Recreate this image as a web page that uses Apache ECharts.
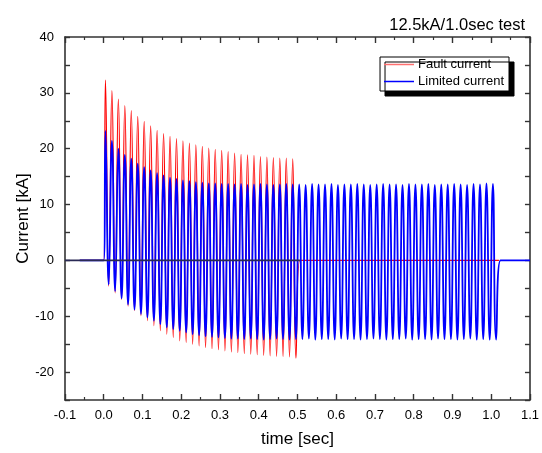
<!DOCTYPE html>
<html><head><meta charset="utf-8">
<script src="https://cdn.jsdelivr.net/npm/echarts@6/dist/echarts.min.js"></script>
<style>html,body{margin:0;padding:0;background:#fff}#c{width:542px;height:453px}</style>
</head><body><div id="c"></div>
<script>
// ---- data ----
const titleText = '12.5kA/1.0sec test';
const seriesNames = ['Fault current', 'Limited current'];
const xTicks = [-0.1, 1.1, 0.1];     // min, max, interval
const yTicks = [-25, 40, 5];         // min, max, interval
const cyclePeriod = 1 / 60;          // 60 Hz
const firstPeakTime = 0.0044;
const traceStart = -0.062;
const faultOn = 0.0, faultOff = 0.506, faultEnd = 1.02;
const limitedOn = 0.0, limitedOff = 1.024, limitedEnd = 1.1;
const zeroLine = [-0.1, 0.506];

const faultPeaks = [32.3, 30.4, 28.9, 27.7, 26.8, 25.8, 24.9, 24.1, 23.3, 22.7,
  22.2, 21.8, 21.4, 21.0, 20.7, 20.4, 20.1, 19.9, 19.7, 19.5,
  19.2, 19.0, 18.9, 18.8, 18.6, 18.5, 18.4, 18.3, 18.3, 18.2];
const faultTroughs = [-4.6, -5.8, -7.0, -8.2, -9.0, -9.9, -10.8, -11.7, -12.6, -13.2,
  -13.8, -14.4, -14.7, -15.0, -15.3, -15.6, -15.8, -16.0, -16.2, -16.4,
  -16.5, -16.7, -16.8, -16.9, -17.0, -17.1, -17.2, -17.2, -17.3, -17.5];

const limitedPeaks = [23.2, 21.4, 20.0, 18.9, 18.2, 17.3, 16.7, 16.1, 15.6, 15.2,
  14.8, 14.6, 14.3, 14.2, 14.0, 13.9, 13.8, 13.8, 13.7, 13.7,
  13.6, 13.7, 13.5, 13.6, 13.7, 13.6, 13.5, 13.6, 13.7, 13.6,
  13.6, 13.5, 13.7, 13.6, 13.6, 13.7, 13.5, 13.6, 13.6, 13.7,
  13.6, 13.5, 13.6, 13.7, 13.6, 13.6, 13.5, 13.7, 13.6, 13.6,
  13.7, 13.5, 13.6, 13.6, 13.7, 13.6, 13.5, 13.7, 13.6, 13.8, 13.7];
const limitedTroughs = [-4.3, -5.5, -6.8, -7.9, -8.8, -9.6, -10.2, -10.8, -11.4, -12.0,
  -12.3, -12.6, -12.9, -13.2, -13.4, -13.6, -13.7, -13.8, -13.9, -14.0,
  -14.0, -14.1, -14.0, -14.1, -14.2, -14.1, -14.0, -14.1, -14.2, -14.1,
  -14.1, -14.0, -14.2, -14.1, -14.1, -14.2, -14.0, -14.1, -14.1, -14.2,
  -14.1, -14.0, -14.1, -14.2, -14.1, -14.1, -14.0, -14.2, -14.1, -14.1,
  -14.2, -14.0, -14.1, -14.1, -14.2, -14.1, -14.0, -14.2, -14.1, -14.2, -14.2];

function buildTrace(peaks, troughs, on, off, end) {
  const pts = [[traceStart, 0], [on, 0]];
  for (let k = 0; k < peaks.length; k++) {
    pts.push([firstPeakTime + k * cyclePeriod, peaks[k]]);
    pts.push([firstPeakTime + (k + 0.5) * cyclePeriod, troughs[k]]);
  }
  pts.push([off, 0], [end, 0]);
  return pts;
}

const FONT = 'Liberation Sans, Arial, sans-serif';
const chart = echarts.init(document.getElementById('c'), null, {renderer: 'canvas'});
const axisLine = {show: true, onZero: false, lineStyle: {color: '#333', width: 1.6}};
const fmtX = v => { const s = (Math.round(v * 10) / 10).toFixed(1); return s === '-0.0' ? '0.0' : s; };
const fmtY = v => (Math.round(v) % 10 === 0 ? String(Math.round(v)) : '');

chart.setOption({
  animation: false,
  backgroundColor: '#fff',
  title: {text: titleText, right: 12, top: 12,
    textStyle: {fontFamily: FONT, fontSize: 16.5, fontWeight: 'normal', color: '#000'}},
  legend: {
    data: [
      {name: seriesNames[0], icon: 'rect', itemStyle: {color: '#ff7070'}},
      {name: seriesNames[1], icon: 'rect', itemStyle: {color: '#0000ff'}}
    ],
    orient: 'vertical', right: 33, top: 57,
    backgroundColor: '#fff', borderColor: '#000', borderWidth: 1,
    shadowColor: '#000', shadowOffsetX: 5, shadowOffsetY: 5, shadowBlur: 0.01,
    padding: [1, 5, 3, 4], itemGap: 4, itemWidth: 30, itemHeight: 1.5,
    textStyle: {fontFamily: FONT, fontSize: 13, lineHeight: 13, color: '#000', padding: [0, 0, 0, -1]}
  },
  grid: {left: 65, right: 12, top: 37, bottom: 52},
  xAxis: [{
    type: 'value', min: xTicks[0], max: xTicks[1], interval: xTicks[2],
    name: 'time [sec]', nameLocation: 'middle', nameGap: 31, nameMoveOverlap: false,
    nameTextStyle: {fontFamily: FONT, fontSize: 17, color: '#000'},
    axisLine, splitLine: {show: false},
    axisTick: {inside: true, length: 6, lineStyle: {color: '#333', width: 1.4}},
    minorTick: {show: true, splitNumber: 2, length: 3, lineStyle: {color: '#333', width: 1.2}},
    axisLabel: {formatter: fmtX, margin: 9, fontFamily: FONT, fontSize: 13, color: '#000'}
  }, {
    type: 'value', position: 'top', min: xTicks[0], max: xTicks[1], interval: xTicks[2],
    axisLine, splitLine: {show: false},
    axisTick: {inside: true, length: 6, lineStyle: {color: '#333', width: 1.4}},
    minorTick: {show: true, splitNumber: 2, length: 3, lineStyle: {color: '#333', width: 1.2}},
    axisLabel: {show: false}
  }],
  yAxis: [{
    type: 'value', min: yTicks[0], max: yTicks[1], interval: yTicks[2],
    name: 'Current [kA]', nameLocation: 'middle', nameGap: 33, nameMoveOverlap: false,
    nameTextStyle: {fontFamily: FONT, fontSize: 17, color: '#000'},
    axisLine, splitLine: {show: false},
    axisTick: {inside: true, length: 5, lineStyle: {color: '#333', width: 1.4}},
    axisLabel: {formatter: fmtY, margin: 11, fontFamily: FONT, fontSize: 13, color: '#000'}
  }, {
    type: 'value', position: 'right', min: yTicks[0], max: yTicks[1], interval: yTicks[2],
    axisLine, splitLine: {show: false},
    axisTick: {inside: true, length: 5, lineStyle: {color: '#333', width: 1.4}},
    axisLabel: {show: false}
  }],
  series: [
    {name: seriesNames[0], type: 'line', symbol: 'none', z: 2, smooth: 0.5,
     lineStyle: {color: '#ff0000', width: 1.2}, itemStyle: {color: '#ff0000'},
     data: buildTrace(faultPeaks, faultTroughs, faultOn, faultOff, faultEnd)},
    {name: seriesNames[1], type: 'line', symbol: 'none', z: 3, smooth: 0.5,
     lineStyle: {color: '#0000ff', width: 1.8}, itemStyle: {color: '#0000ff'},
     data: buildTrace(limitedPeaks, limitedTroughs, limitedOn, limitedOff, limitedEnd)},
    {name: 'zero', type: 'line', symbol: 'none', z: 4, silent: true,
     lineStyle: {color: '#2a2a55', width: 1.6},
     data: [[zeroLine[0], 0], [zeroLine[1], 0]]}
  ]
});
</script></body></html>
